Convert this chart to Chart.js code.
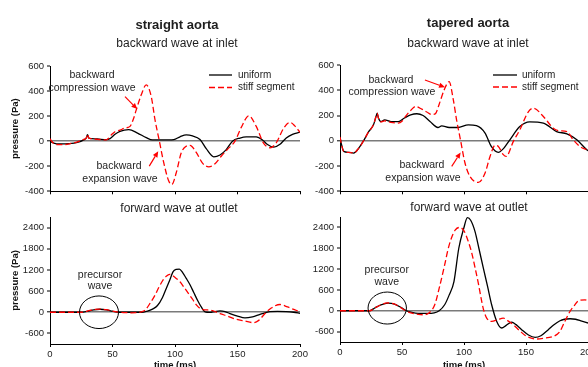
<!DOCTYPE html>
<html><head><meta charset="utf-8">
<script src="https://cdn.jsdelivr.net/npm/chart.js@4/dist/chart.umd.min.js"></script>
<style>
html,body{margin:0;padding:0;width:588px;height:367px;overflow:hidden;background:#fff;}
canvas{position:absolute;}
</style></head><body>
<canvas id="tl" width="305" height="200" style="left:0;top:0"></canvas>
<canvas id="tr" width="310" height="200" style="left:290px;top:0"></canvas>
<canvas id="bl" width="320" height="175" style="left:0;top:200px"></canvas>
<canvas id="br" width="310" height="175" style="left:290px;top:200px"></canvas>
<script>
// ---------- data ----------
const seriesNames = ['uniform', 'stiff segment'];
const timeTicks = [0, 50, 100, 150, 200];
const backTicks = [-400, -200, 0, 200, 400, 600];
const fwdTicks = [-600, 0, 600, 1200, 1800, 2400];

// straight aorta, backward wave at inlet
const sbUniT = [0,3,8,15,22,27,29,30,31,33,38,45,48,52,56,63,70,77,82,90,99,104,109,114,120,125,131,136,141,146,152,157,165,170,174,179,184,189,194,200];
const sbUniP = [0,-15,-22,-20,-10,10,25,52,25,20,18,12,20,55,79,92,65,28,10,10,13,35,50,42,13,-60,-125,-110,-67,0,25,34,34,10,-27,-48,-25,26,55,72];
const sbStfT = [0,1,4,10,16,22,27,29,30,31,33,38,45,49,52,56,60,64,67,69,73,77,81,84,87.5,91,95,97.5,101,105,109,112,117,122,127,132,137,142,148,153,159,165,170.7,176,181,187,192,196,200];
const sbStfP = [20,5,-25,-28,-20,-5,15,25,55,25,20,15,10,50,75,88,105,118,185,250,370,449,356,171,0,-172,-318,-345,-252,-93,-40,-33,-90,-175,-205,-180,-120,-65,0,110,203,118,-13,-53,-13,105,150,120,70];

// tapered aorta, backward wave at inlet
const tbUniT = [0,1,3,7,11,15,19,23,27,29,30,31,33,36,41,47,52,57,62,67,72.6,79,82,88,95,103.5,110,117,122,127.7,132,137,145,153,164,174.7,183,191,199,200];
const tbUniP = [30,-20,-84,-92,-97,-60,0,70,126,190,218,180,152,166,152,152,180,205,214,200,152,105,118,105,105,126,120,61,-45,-92,-60,8,113,150,140,73,55,8,-71,-78];
const tbStfT = [0,1,3,7,11,15,19,23,27,29,30,31,33,36,41,47,50,53,57,61,66,70,74,77,80,84,88,91.4,94,97.3,100.8,104.8,111.5,117,121,125,127.7,131.7,134,139.8,145,152,156,164,172,177,183,188,193.5,200];
const tbStfP = [30,-20,-84,-92,-97,-60,0,70,126,190,218,180,150,158,145,140,155,195,240,272,250,228,208,215,290,403,468,324,166,0,-176,-282,-330,-255,-124,-37,-45,-110,-124,-5,87,231,258,192,100,79,73,8,-45,-76];

// straight aorta, forward wave at outlet
const sfUniT = [0,20,25,30,35,40,45,50,55,60,70,75,78,82,86,90,93,96,98.5,101,103.5,106,109,112,115,118,121,124,128,132,136,140,144,150,156,162,168,172,176,182,189,195,200];
const sfUniP = [0,0,0,30,70,85,70,30,0,0,0,5,30,90,190,420,675,930,1150,1215,1225,1130,960,780,560,340,150,10,-5,20,37,20,-37,-110,-162,-130,-60,-20,20,25,20,0,-30];
const sfStfT = [0,20,25,30,35,40,45,50,55,60,65,70,73,76,80,84,87,90.4,93,95.7,98,101,104,107,110.7,114,117.3,120,122.7,126,130,136,142,149,156,162.7,167,172,177,184,190,195,200];
const sfStfP = [0,0,0,35,75,90,75,35,0,-10,-15,-10,10,57,250,485,700,910,1020,1075,1040,960,865,720,535,370,200,110,75,65,45,-37,-110,-200,-250,-295,-230,-37,120,220,150,80,10];

// tapered aorta, forward wave at outlet
const tfUniT = [0,20,24,28,33,38.7,44,49,53.5,58,63,70,76,80,84.4,88,91.9,95.8,99.8,102.7,105.5,108.9,112,115.6,119,122.3,126.4,130.4,134,138.5,142,146.5,152,157.3,162,168,172,177.4,181,185.5,190,195,200];
const tfUniP = [0,0,0,80,170,220,190,100,0,-50,-75,-75,-60,0,172,450,842,1800,2375,2680,2600,2280,1800,1227,700,172,-307,-497,-420,-325,-400,-546,-700,-767,-720,-546,-420,-287,-245,-230,-245,-300,-353];
const tfStfT = [0,20,24,28,33,38,44,49,53,58,63,67,72,76.4,80,84.4,87,89.8,93,96.5,100,103.5,106,109,111.5,114.3,116,118.3,122.3,127,131.7,135,139.8,145,150.5,158.6,165,172,175,177.4,181,185.5,189,192.2,197.6,200];
const tfStfP = [0,0,0,80,170,225,190,90,0,-70,-105,-115,-60,172,650,1320,1750,2090,2330,2400,2300,1990,1700,1227,800,268,0,-210,-307,-260,-210,-280,-402,-580,-738,-813,-790,-738,-680,-595,-330,-20,150,287,316,290];

// ---------- drawing ----------
const FF = '"Liberation Sans", Arial, sans-serif';
Chart.defaults.font.family = FF;
Chart.defaults.color = '#222';
Chart.defaults.animation = false;

function pts(t, p) { return t.map((x, i) => ({ x: x, y: p[i] })); }

function makeAnnot(o) {
  return {
    id: 'annot',
    afterDraw(chart) {
      const ctx = chart.ctx, ca = chart.chartArea;
      const xs = chart.scales.x, ys = chart.scales.y;
      const X = v => xs.getPixelForValue(v), Y = v => ys.getPixelForValue(v);
      ctx.save();
      ctx.fillStyle = '#1e1e1e'; ctx.textAlign = 'center'; ctx.textBaseline = 'middle';
      const cx = (ca.left + ca.right) / 2 + o.titleDx;
      if (o.title) { ctx.font = 'bold 13px ' + FF; ctx.fillText(o.title, cx, ca.top + o.titleDy); }
      if (o.subtitle) { ctx.font = '12px ' + FF; ctx.fillText(o.subtitle, cx, ca.top + o.subDy); }
      ctx.font = '10.5px ' + FF;
      (o.notes || []).forEach(n => ctx.fillText(n.text, X(n.x), Y(n.y)));
      ctx.strokeStyle = '#000'; ctx.lineWidth = 1;
      (o.ellipses || []).forEach(e => {
        ctx.beginPath(); ctx.ellipse(X(e.x), Y(e.y), e.rx, e.ry, 0, 0, Math.PI * 2); ctx.stroke();
      });
      ctx.strokeStyle = '#ff0000'; ctx.fillStyle = '#ff0000'; ctx.lineWidth = 1.2;
      (o.arrows || []).forEach(a => {
        const x1 = X(a.x1), y1 = Y(a.y1), x2 = X(a.x2), y2 = Y(a.y2);
        const ang = Math.atan2(y2 - y1, x2 - x1), L = 6, W = 2.6;
        const bx = x2 - L * Math.cos(ang), by = y2 - L * Math.sin(ang);
        ctx.beginPath(); ctx.moveTo(x1, y1); ctx.lineTo(bx, by); ctx.stroke();
        ctx.beginPath(); ctx.moveTo(x2, y2);
        ctx.lineTo(bx + W * Math.sin(ang), by - W * Math.cos(ang));
        ctx.lineTo(bx - W * Math.sin(ang), by + W * Math.cos(ang));
        ctx.closePath(); ctx.fill();
      });
      if (o.legend) {
        const lg = o.legend;
        ctx.font = '10px ' + FF; ctx.textAlign = 'left'; ctx.fillStyle = '#1e1e1e';
        chart.data.datasets.forEach((ds, i) => {
          const y = ca.top + lg.dy + i * lg.step;
          ctx.strokeStyle = ds.borderColor; ctx.lineWidth = ds.borderWidth;
          ctx.setLineDash(ds.borderDash || []);
          ctx.beginPath(); ctx.moveTo(ca.right + lg.x1, y); ctx.lineTo(ca.right + lg.x2, y); ctx.stroke();
          ctx.setLineDash([]);
          ctx.fillText(ds.label, ca.right + lg.tx, y);
        });
      }
      ctx.restore();
    }
  };
}

function makeChart(id, o) {
  const fixTicks = arr => scale => { scale.ticks = arr.map(v => ({ value: v })); };
  return new Chart(document.getElementById(id), {
    type: 'line',
    data: { datasets: [
      { label: seriesNames[0], data: pts(o.uT, o.uP), borderColor: '#000000', borderWidth: 1.3,
        pointRadius: 0, cubicInterpolationMode: 'monotone', order: 1 },
      { label: seriesNames[1], data: pts(o.sT, o.sP), borderColor: '#ff0000', borderWidth: 1.3,
        borderDash: [6, 3], pointRadius: 0, cubicInterpolationMode: 'monotone', order: 0 }
    ] },
    options: {
      responsive: false, animation: false, devicePixelRatio: 1,
      layout: { padding: { top: o.padTop, right: o.padRight, left: 0, bottom: 0 } },
      plugins: { legend: { display: false }, tooltip: { enabled: false } },
      scales: {
        x: {
          type: 'linear', min: 0, max: 200,
          afterBuildTicks: fixTicks(timeTicks),
          afterFit: s => { s.height = o.xH; },
          border: { display: true, color: '#000', width: 1 },
          grid: { drawOnChartArea: false, drawTicks: true, tickLength: 3, tickColor: '#000', tickWidth: 1 },
          ticks: { display: o.xLabels, padding: 2, font: { size: 9.5 }, color: '#222',
                   callback: v => String(v), maxRotation: 0, autoSkip: false },
          title: { display: o.xLabels, text: 'time (ms)', font: { size: 9.5, weight: 'bold' }, color: '#111',
                   padding: { top: 0, bottom: 4 } }
        },
        y: {
          type: 'linear', min: o.yMin, max: o.yMax,
          afterBuildTicks: fixTicks(o.yTicks),
          afterFit: s => { s.width = 50; },
          border: { display: true, color: '#000', width: 1 },
          grid: {
            drawOnChartArea: true,
            color: c => (c.tick && c.tick.value === 0) ? '#7a7a7a' : 'rgba(0,0,0,0)',
            lineWidth: c => (c.tick && c.tick.value === 0) ? 1.6 : 0,
            tickLength: 3, tickColor: '#000', tickWidth: 1
          },
          ticks: { padding: 3, font: { size: 9.5 }, color: '#222', callback: v => String(v), autoSkip: false },
          title: { display: o.yTitle, text: 'pressure (Pa)', font: { size: 9.5, weight: 'bold' }, color: '#111',
                   padding: { top: 10, bottom: 0 } }
        }
      }
    },
    plugins: [makeAnnot(o.annot)]
  });
}

makeChart('tl', {
  uT: sbUniT, uP: sbUniP, sT: sbStfT, sP: sbStfP,
  yMin: -400, yMax: 600, yTicks: backTicks, xLabels: false, yTitle: true,
  padTop: 66, padRight: 5, xH: 8,
  annot: {
    title: 'straight aorta', subtitle: 'backward wave at inlet', titleDx: 2, titleDy: -41, subDy: -22,
    notes: [
      { text: 'backward', x: 33.6, y: 528 }, { text: 'compression wave', x: 33.6, y: 425 },
      { text: 'backward', x: 55.2, y: -200 }, { text: 'expansion wave', x: 56, y: -305 }
    ],
    arrows: [ { x1: 60, y1: 356, x2: 69.8, y2: 256 }, { x1: 79.4, y1: -199, x2: 86.6, y2: -80 } ],
    legend: { dy: 9, step: 12.5, x1: -91, x2: -68, tx: -62 }
  }
});

makeChart('tr', {
  uT: tbUniT, uP: tbUniP, sT: tbStfT, sP: tbStfP,
  yMin: -400, yMax: 600, yTicks: backTicks, xLabels: false, yTitle: false,
  padTop: 65, padRight: 12, xH: 8,
  annot: {
    title: 'tapered aorta', subtitle: 'backward wave at inlet', titleDx: 4, titleDy: -42, subDy: -21.5,
    notes: [
      { text: 'backward', x: 41.1, y: 481 }, { text: 'compression wave', x: 41.9, y: 387 },
      { text: 'backward', x: 66.1, y: -195 }, { text: 'expansion wave', x: 66.9, y: -292 }
    ],
    arrows: [ { x1: 68.5, y1: 481, x2: 84.7, y2: 424 }, { x1: 90.1, y1: -203, x2: 97.3, y2: -92 } ],
    legend: { dy: 10, step: 12, x1: -95, x2: -71, tx: -66 }
  }
});

makeChart('bl', {
  uT: sfUniT, uP: sfUniP, sT: sfStfT, sP: sfStfP,
  yMin: -900, yMax: 2700, yTicks: fwdTicks, xLabels: true, yTitle: true,
  padTop: 17, padRight: 20, xH: 31,
  annot: {
    subtitle: 'forward wave at outlet', titleDx: 4, subDy: -8,
    notes: [ { text: 'precursor', x: 40, y: 1054 }, { text: 'wave', x: 40, y: 741 } ],
    ellipses: [ { x: 39.2, y: 0, rx: 19.5, ry: 16.3 } ]
  }
});

makeChart('br', {
  uT: tfUniT, uP: tfUniP, sT: tfStfT, sP: tfStfP,
  yMin: -900, yMax: 2700, yTicks: fwdTicks, xLabels: true, yTitle: false,
  padTop: 17, padRight: 12, xH: 33,
  annot: {
    subtitle: 'forward wave at outlet', titleDx: 5, subDy: -9.5,
    notes: [ { text: 'precursor', x: 37.7, y: 1164 }, { text: 'wave', x: 37.7, y: 833 } ],
    ellipses: [ { x: 38.1, y: 78, rx: 19.2, ry: 16 } ]
  }
});
</script>
</body></html>
